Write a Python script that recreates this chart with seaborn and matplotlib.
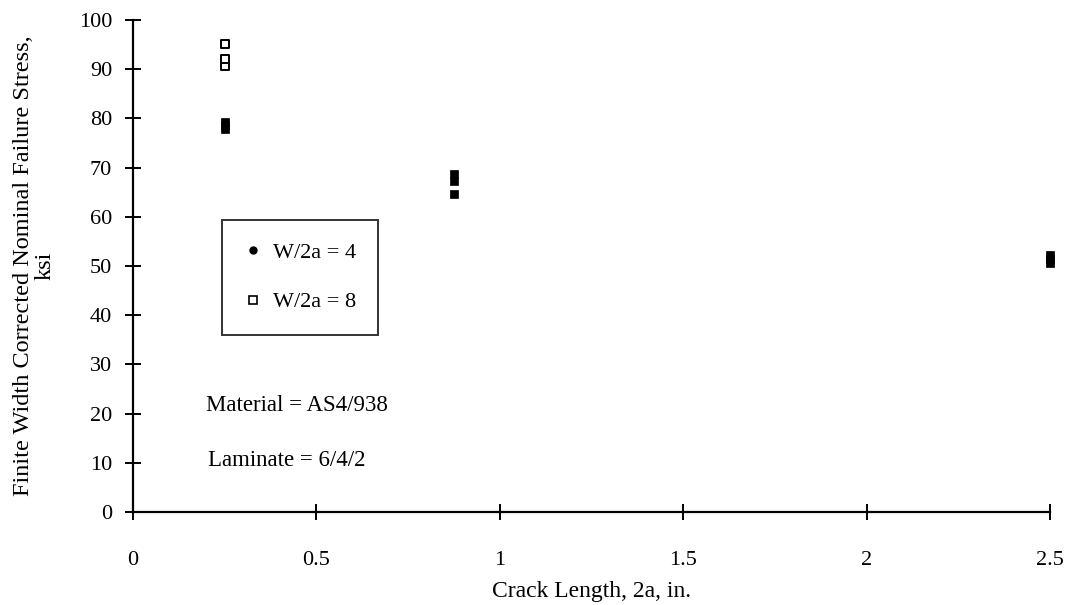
import numpy as np
import pandas as pd
import seaborn as sns
import matplotlib.pyplot as plt
from matplotlib.lines import Line2D

# W/2a = 4 (filled markers)
crack_w4 = [0.25, 0.25, 0.25, 0.875, 0.875, 0.875, 2.5, 2.5, 2.5]
stress_w4 = [77.8, 78.6, 79.2, 64.7, 67.2, 68.7, 50.6, 51.5, 52.2]

# W/2a = 8 (open markers)
crack_w8 = [0.25, 0.25, 0.25]
stress_w8 = [90.6, 92.0, 95.2]

x_ticks = [0, 0.5, 1, 1.5, 2, 2.5]
x_ticklabels = ["0", "0.5", "1", "1.5", "2", "2.5"]
y_ticks = list(range(0, 101, 10))

df4 = pd.DataFrame({"crack": crack_w4, "stress": stress_w4})
df8 = pd.DataFrame({"crack": crack_w8, "stress": stress_w8})

sns.set_theme(style="white")
plt.rcParams["font.family"] = ["Liberation Serif", "DejaVu Serif"]
plt.rcParams["text.color"] = "black"

fig = plt.figure(figsize=(10.69, 6.05), dpi=100)
ax = fig.add_axes([0.1244, 0.1537, 0.8578, 0.8133])

sns.scatterplot(data=df4, x="crack", y="stress", ax=ax, marker="s", s=28,
                color="black", edgecolor="black", linewidth=0.5, clip_on=False)
sns.scatterplot(data=df8, x="crack", y="stress", ax=ax, marker="s", s=40,
                facecolor="white", edgecolor="black", linewidth=1.4, clip_on=False)

ax.set_xlim(0, 2.5)
ax.set_ylim(0, 100)
ax.set_xticks(x_ticks)
ax.set_xticklabels(x_ticklabels)
ax.set_yticks(y_ticks)

for side in ["top", "right"]:
    ax.spines[side].set_visible(False)
for side in ["left", "bottom"]:
    ax.spines[side].set_color("black")
    ax.spines[side].set_linewidth(1.6)

ax.tick_params(axis="both", direction="inout", length=12, width=1.4,
               colors="black", labelcolor="black", labelsize=16,
               bottom=True, left=True)
ax.tick_params(axis="x", pad=22)
ax.tick_params(axis="y", pad=9)

ax.set_xlabel("Crack Length, 2a, in.", fontsize=17, color="black", labelpad=8)
ax.set_ylabel("Finite Width Corrected Nominal Failure Stress,\nksi",
              fontsize=17.5, color="black", linespacing=1.0)
ax.yaxis.set_label_coords(-0.085, 0.5)

ax.text(0.2, 21.7, "Material = AS4/938", fontsize=16.5, va="center", ha="left")
ax.text(0.205, 10.5, "Laminate = 6/4/2", fontsize=16.5, va="center", ha="left")

handles = [
    Line2D([], [], marker="o", linestyle="none", markersize=5,
           markerfacecolor="black", markeredgecolor="black"),
    Line2D([], [], marker="s", linestyle="none", markersize=6,
           markerfacecolor="white", markeredgecolor="black", markeredgewidth=1.2),
]
leg = ax.legend(handles, ["W/2a = 4", "W/2a = 8"], loc="upper left",
                bbox_to_anchor=(0.097, 0.593), borderaxespad=0, frameon=True,
                fancybox=False, fontsize=16, handletextpad=0.5,
                labelspacing=1.3, borderpad=1.0, handlelength=0.8)
leg.get_frame().set_edgecolor("black")
leg.get_frame().set_linewidth(1.4)
for t in leg.get_texts():
    t.set_color("black")

fig.savefig("out.png", dpi=100)
